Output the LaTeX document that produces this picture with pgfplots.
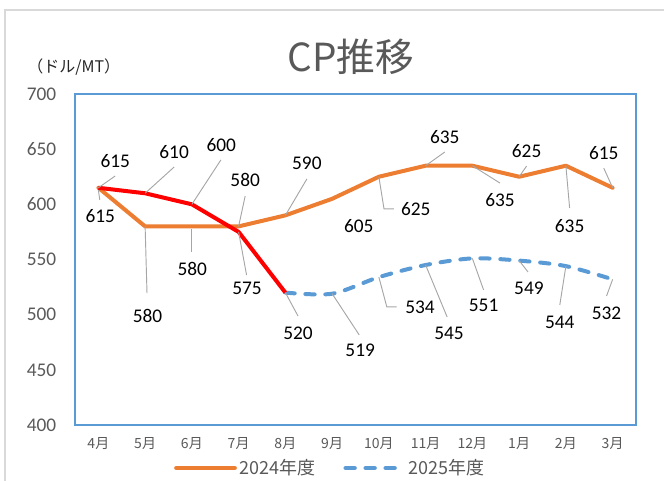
\documentclass[border=0pt]{standalone}
\usepackage{fontspec}
\setmainfont{Carlito}
\newfontfamily\jp{Noto Sans CJK JP}
\usepackage{pgfplots}
\pgfplotsset{compat=1.18}
\definecolor{orng}{HTML}{ED7D31}
\definecolor{bl}{HTML}{5B9BD5}
\definecolor{txtgray}{HTML}{595959}
\definecolor{leader}{HTML}{A6A6A6}
\definecolor{framegray}{HTML}{D9D9D9}
\begin{document}
\begin{tikzpicture}
\useasboundingbox (0pt,0pt) rectangle (498pt,360.75pt);
\begin{scope}
\clip (0pt,0pt) rectangle (498pt,360.75pt);
\draw[framegray, line width=1.2pt] (3.75pt,-10pt) rectangle (520pt,353.25pt);
\end{scope}
\node[txtgray, font=\jp\fontsize{29}{32}\selectfont] at (263.25pt,318pt) {CP推移};
\node[black!85, font=\jp\fontsize{12}{14}\selectfont, anchor=west] at (17pt,310.5pt) {（ドル/MT）};
\begin{axis}[
  at={(56.25pt,42pt)}, anchor=south west,
  scale only axis, width=420.75pt, height=248.25pt,
  xmin=-0.5, xmax=11.5, ymin=400, ymax=700,
  ytick={400,450,...,700},
  xtick={0,...,11},
  xticklabels={4月,5月,6月,7月,8月,9月,10月,11月,12月,1月,2月,3月},
  major tick length=0pt,
  axis line style={bl, line width=0.8pt},
  yticklabel style={font=\fontsize{14.5}{16}\selectfont, text=txtgray, xshift=-10.5pt},
  xticklabel style={font=\jp\fontsize{10.5}{12}\selectfont, text=txtgray, yshift=-6pt},
  /pgf/number format/assume math mode=true,
  clip=false,
  legend columns=2,
  legend style={draw=none, fill=none, at={(axis description cs:0.456,-0.13)}, anchor=center,
    font=\jp\fontsize{13.5}{15}\selectfont, text=txtgray,
    /tikz/every even column/.append style={column sep=19pt}},
  legend image code/.code={\draw[#1] (0pt,0pt) -- (44pt,0pt);},
]
\addplot[orng, line width=3pt, line join=round, line cap=round] coordinates {
 (0,615) (1,580) (2,580) (3,580) (4,590) (5,605) (6,625) (7,635) (8,635) (9,625) (10,635) (11,615)};
\addlegendentry{2024年度}
\addplot[bl, line width=3pt, smooth, line cap=round, dash pattern=on 7pt off 8pt] coordinates {
 (4,520) (5,519) (6,534) (7,545) (8,551) (9,549) (10,544) (11,532)};
\addlegendentry{2025年度}
\addplot[red, line width=3pt, line join=round, forget plot] coordinates {
 (0,615) (1,610) (2,600) (3,575) (4,520)};

% leader lines
\begin{scope}[leader, line width=0.7pt]
\draw (axis cs:0,613) -- (axis cs:0.03,604);
\draw (axis cs:1,580) -- (axis cs:1.04,519.6);
\draw (axis cs:2,578) -- (axis cs:2,556.8);
\draw (axis cs:3,580) -- (axis cs:3.14,607.5);
\draw (axis cs:4,590) -- (axis cs:4.46,623);
\draw (axis cs:6,625) -- (axis cs:6.11,595.8) -- (axis cs:6.32,595.8);
\draw (axis cs:7,635) -- (axis cs:7.41,647.4);
\draw (axis cs:8,635) -- (axis cs:8.59,619.3);
\draw (axis cs:9,625) -- (axis cs:9.16,634.7);
\draw (axis cs:10,635) -- (axis cs:10.08,596.7);
\draw (axis cs:11,615) -- (axis cs:10.81,632.9);
\draw (axis cs:0,615) -- (axis cs:0.36,625.7);
\draw (axis cs:1,610) -- (axis cs:1.62,633.8);
\draw (axis cs:2,600) -- (axis cs:2.62,640.2);
\draw (axis cs:3,575) -- (axis cs:3.17,535.9);
\draw (axis cs:4,520) -- (axis cs:4.27,498.8);
\draw (axis cs:5,519) -- (axis cs:5.58,481.6);
\draw (axis cs:6,534) -- (axis cs:6.17,507) -- (axis cs:6.38,507);
\draw (axis cs:7,545) -- (axis cs:7.46,497.9);
\draw (axis cs:8,551) -- (axis cs:8.24,522.4);
\draw (axis cs:9,549) -- (axis cs:9.19,538.7);
\draw (axis cs:10,544) -- (axis cs:9.87,508.8);
\draw (axis cs:11,532) -- (axis cs:10.87,516.9);
\end{scope}

% data labels
\begin{scope}[every node/.style={font=\fontsize{14.5}{16}\selectfont, inner sep=0pt, text=black}]
\node at (axis cs:0.04,589.4) {615};
\node at (axis cs:1.05,498.8) {580};
\node at (axis cs:2.01,541.4) {580};
\node at (axis cs:3.14,622) {580};
\node at (axis cs:4.46,637.5) {590};
\node at (axis cs:5.57,580.4) {605};
\node at (axis cs:6.79,595.8) {625};
\node at (axis cs:7.41,661) {635};
\node at (axis cs:8.59,603.9) {635};
\node at (axis cs:9.16,648.3) {625};
\node at (axis cs:10.08,580.4) {635};
\node at (axis cs:10.81,646.5) {615};
\node at (axis cs:0.36,639.3) {615};
\node at (axis cs:1.62,647.4) {610};
\node at (axis cs:2.63,653.8) {600};
\node at (axis cs:3.18,524.2) {575};
\node at (axis cs:4.27,483.4) {520};
\node at (axis cs:5.60,468) {519};
\node at (axis cs:6.88,507) {534};
\node at (axis cs:7.50,483.4) {545};
\node at (axis cs:8.24,508.8) {551};
\node at (axis cs:9.21,524.2) {549};
\node at (axis cs:9.87,493.3) {544};
\node at (axis cs:10.87,501.5) {532};
\end{scope}
\end{axis}
\end{tikzpicture}
\end{document}
